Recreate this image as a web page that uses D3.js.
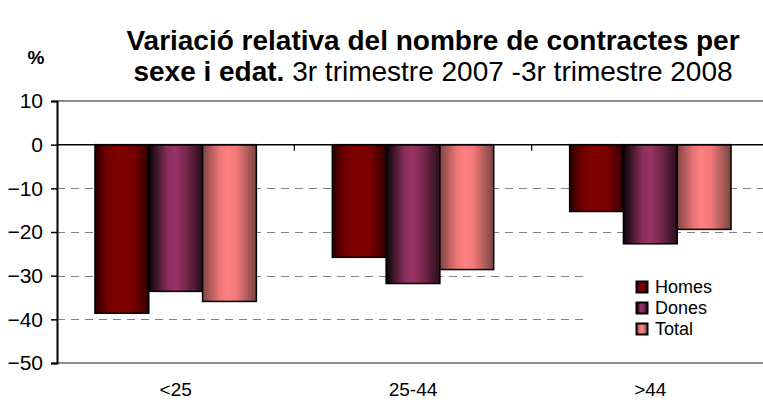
<!DOCTYPE html>
<html>
<head>
<meta charset="utf-8">
<script src="https://cdn.jsdelivr.net/npm/d3@7"></script>
<style>
  body { margin: 0; background: #fff; }
  svg { font-family: "Liberation Sans", Arial, sans-serif; }
</style>
</head>
<body>
<div id="chart"></div>
<script>
// chart data
var categories = ["<25", "25-44", ">44"];
var seriesNames = ["Homes", "Dones", "Total"];
var homes = [-38.6, -25.8, -15.3];
var dones = [-33.6, -31.8, -22.7];
var total = [-35.9, -28.6, -19.4];
var yTicks = [10, 0, -10, -20, -30, -40, -50];
var dashedTicks = [-10, -20, -30, -40];

var values = { "Homes": homes, "Dones": dones, "Total": total };

// set the dimensions and margins of the graph
var W = 763, H = 403;
var margin = {top: 101, left: 57, bottom: 363, right: 769};

var svg = d3.select("#chart")
  .append("svg")
    .attr("width", W)
    .attr("height", H);

// gradients for the cylinder-like bars
var gradStops = {
  "Homes": [[0, "#2a0000"], [0.22, "#700000"], [0.42, "#800000"], [0.72, "#780000"], [1, "#300000"]],
  "Dones": [[0, "#0a0406"], [0.35, "#8a2e5c"], [0.5, "#993366"], [0.68, "#7a284f"], [1, "#2a0e1c"]],
  "Total": [[0, "#804444"], [0.3, "#e87474"], [0.45, "#ff8080"], [0.62, "#f47a7a"], [1, "#7a4444"]]
};
var defs = svg.append("defs");
seriesNames.forEach(function(s) {
  var g = defs.append("linearGradient")
    .attr("id", "grad-" + s)
    .attr("x1", "0%").attr("x2", "100%").attr("y1", "0%").attr("y2", "0%");
  gradStops[s].forEach(function(st) {
    g.append("stop").attr("offset", st[0]).attr("stop-color", st[1]);
  });
});

// scales
var y = d3.scaleLinear()
  .domain([-50, 10])
  .range([margin.bottom, margin.top]);

var x0 = d3.scaleBand()
  .domain(categories)
  .range([margin.left, margin.right])
  .paddingInner(0.32)
  .paddingOuter(0.16);

var x1 = d3.scaleBand()
  .domain(seriesNames)
  .range([0, x0.bandwidth()]);

var step = x0.step();

// dashed gridlines
svg.append("g")
  .selectAll("line")
  .data(dashedTicks)
  .enter().append("line")
    .attr("x1", margin.left)
    .attr("x2", W)
    .attr("y1", function(d) { return Math.round(y(d)) + 0.5; })
    .attr("y2", function(d) { return Math.round(y(d)) + 0.5; })
    .attr("stroke", "#808080")
    .attr("stroke-width", 1.2)
    .attr("stroke-dasharray", "8,6");

// top and bottom frame lines
[10, -50].forEach(function(v) {
  svg.append("line")
    .attr("x1", margin.left).attr("x2", W)
    .attr("y1", y(v)).attr("y2", y(v))
    .attr("stroke", "#8c8c8c")
    .attr("stroke-width", 2);
});

// bars
var groups = svg.append("g")
  .selectAll("g")
  .data(categories)
  .enter().append("g")
    .attr("transform", function(d) { return "translate(" + x0(d) + ",0)"; });

groups.selectAll("rect")
  .data(function(c, i) {
    return seriesNames.map(function(s) { return {key: s, value: values[s][i]}; });
  })
  .enter().append("rect")
    .attr("x", function(d) { return x1(d.key); })
    .attr("y", y(0))
    .attr("width", x1.bandwidth())
    .attr("height", function(d) { return y(d.value) - y(0); })
    .attr("fill", function(d) { return "url(#grad-" + d.key + ")"; })
    .attr("stroke", "#000")
    .attr("stroke-width", 1.5);

// legend (white box hides the gridlines behind it)
var legend = svg.append("g");
legend.append("rect")
  .attr("x", 588).attr("y", 258)
  .attr("width", 175).attr("height", 88)
  .attr("fill", "#fff");

seriesNames.forEach(function(s, i) {
  var cy = 287 + i * 21;
  legend.append("rect")
    .attr("x", 636.5).attr("y", cy - 5.5)
    .attr("width", 11).attr("height", 11)
    .attr("fill", "url(#grad-" + s + ")")
    .attr("stroke", "#000")
    .attr("stroke-width", 2);
  legend.append("text")
    .attr("x", 655)
    .attr("y", cy)
    .attr("dy", "0.36em")
    .attr("font-size", 18)
    .attr("fill", "#000")
    .text(s);
});

// zero line
svg.append("line")
  .attr("x1", margin.left).attr("x2", W)
  .attr("y1", y(0)).attr("y2", y(0))
  .attr("stroke", "#000")
  .attr("stroke-width", 1.5);

// category separator ticks on the zero line
svg.append("g")
  .selectAll("line")
  .data(categories.slice(1))
  .enter().append("line")
    .attr("x1", function(d) { return x0(d) - step * 0.16; })
    .attr("x2", function(d) { return x0(d) - step * 0.16; })
    .attr("y1", y(0))
    .attr("y2", y(0) + 6)
    .attr("stroke", "#000")
    .attr("stroke-width", 1.2);

// Y axis
var yAxis = svg.append("g")
  .attr("transform", "translate(" + margin.left + ",0)")
  .call(d3.axisLeft(y).tickValues(yTicks).tickSize(6).tickPadding(8));
yAxis.select(".domain").attr("stroke", "#000").attr("stroke-width", 2);
yAxis.selectAll(".tick line").attr("stroke", "#000").attr("stroke-width", 1.5);
yAxis.selectAll("text")
  .attr("font-size", 21)
  .attr("font-family", "Liberation Sans, Arial, sans-serif")
  .attr("fill", "#000");

// X labels
svg.append("g")
  .selectAll("text")
  .data(categories)
  .enter().append("text")
    .attr("x", function(d) { return x0(d) + x0.bandwidth() / 2; })
    .attr("y", 396)
    .attr("text-anchor", "middle")
    .attr("font-size", 19)
    .attr("fill", "#000")
    .text(function(d) { return d; });

// "%" label
svg.append("text")
  .attr("x", 36).attr("y", 64)
  .attr("text-anchor", "middle")
  .attr("font-size", 19)
  .attr("font-weight", "bold")
  .text("%");

// title
var title = svg.append("text")
  .attr("x", 433)
  .attr("text-anchor", "middle")
  .attr("font-size", 28)
  .attr("fill", "#000");
title.append("tspan")
  .attr("x", 433).attr("y", 50)
  .attr("font-weight", "bold")
  .text("Variació relativa del nombre de contractes per");
var line2 = title.append("tspan")
  .attr("x", 433).attr("y", 81);
line2.append("tspan").attr("font-weight", "bold").text("sexe i edat.");
line2.append("tspan").text(" 3r trimestre 2007 -3r trimestre 2008");
</script>
</body>
</html>
